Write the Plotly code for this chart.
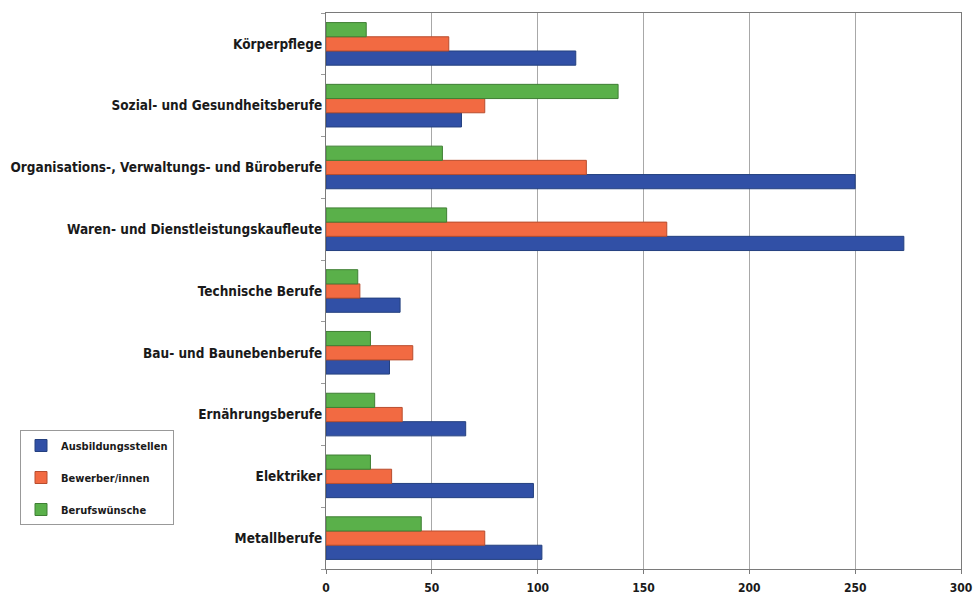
import plotly.graph_objects as go

# Occupational fields, listed top to bottom
categories = [
    "Körperpflege",
    "Sozial- und Gesundheitsberufe",
    "Organisations-, Verwaltungs- und Büroberufe",
    "Waren- und Dienstleistungskaufleute",
    "Technische Berufe",
    "Bau- und Baunebenberufe",
    "Ernährungsberufe",
    "Elektriker",
    "Metallberufe",
]

ausbildungsstellen = [118, 64, 250, 273, 35, 30, 66, 98, 102]
bewerber = [58, 75, 123, 161, 16, 41, 36, 31, 75]
berufswuensche = [19, 138, 55, 57, 15, 21, 23, 21, 45]

series_names = ["Ausbildungsstellen", "Bewerber/innen", "Berufswünsche"]
series_values = [ausbildungsstellen, bewerber, berufswuensche]
series_colors = ["#3150A6", "#F26A42", "#5AB04A"]
series_edges = ["#24407F", "#B84D2E", "#3F7F34"]

x_ticks = [0, 50, 100, 150, 200, 250, 300]

font_family = "DejaVu Sans Condensed, Liberation Sans Narrow, sans-serif"

W, H = 980, 596
L, R, T, B = 326, 19, 13, 27
plot_w = W - L - R
plot_h = H - T - B

fig = go.Figure()
for name, vals, col, edge in zip(series_names, series_values, series_colors, series_edges):
    fig.add_trace(go.Bar(
        y=categories,
        x=vals,
        name=name,
        legendgroup=name,
        orientation="h",
        marker=dict(color=col, line=dict(color=edge, width=1)),
    ))

fig.update_layout(
    width=W,
    height=H,
    barmode="group",
    bargap=0.31,
    bargroupgap=0,
    paper_bgcolor="white",
    plot_bgcolor="white",
    margin=dict(l=L, r=R, t=T, b=B, autoexpand=False),
    font=dict(family=font_family, color="#1a1a1a"),
    legend=dict(
        x=(20 - L) / plot_w,
        y=1 - (430 - T) / plot_h,
        xanchor="left", yanchor="top",
        traceorder="grouped",
        bordercolor="#999999", borderwidth=1,
        bgcolor="white",
        font=dict(size=11, family=font_family, weight="bold"),
        itemwidth=30,
        tracegroupgap=13,
    ),
    showlegend=True,
)

fig.update_xaxes(
    range=[0, 300],
    tickvals=x_ticks,
    ticktext=[str(t) for t in x_ticks],
    showgrid=True,
    gridcolor="#A8A8A8",
    gridwidth=1,
    zeroline=False,
    showline=True,
    linecolor="#7a7a7a",
    linewidth=1,
    mirror=True,
    ticks="outside",
    ticklen=4,
    tickcolor="#7a7a7a",
    tickfont=dict(size=12, family=font_family, weight="bold", color="#1a1a1a"),
    ticklabelstandoff=4,
    automargin=False,
    fixedrange=True,
)

fig.update_yaxes(
    categoryorder="array",
    categoryarray=categories[::-1],
    showline=True,
    linecolor="#7a7a7a",
    linewidth=1,
    mirror=True,
    ticks="outside",
    tickson="boundaries",
    ticklen=4,
    tickcolor="#9a9a9a",
    showgrid=False,
    tickfont=dict(size=13.5, family=font_family, weight="bold", color="#1a1a1a"),
    ticklabelstandoff=0,
    automargin=False,
    fixedrange=True,
)

fig.write_html("out.html")
